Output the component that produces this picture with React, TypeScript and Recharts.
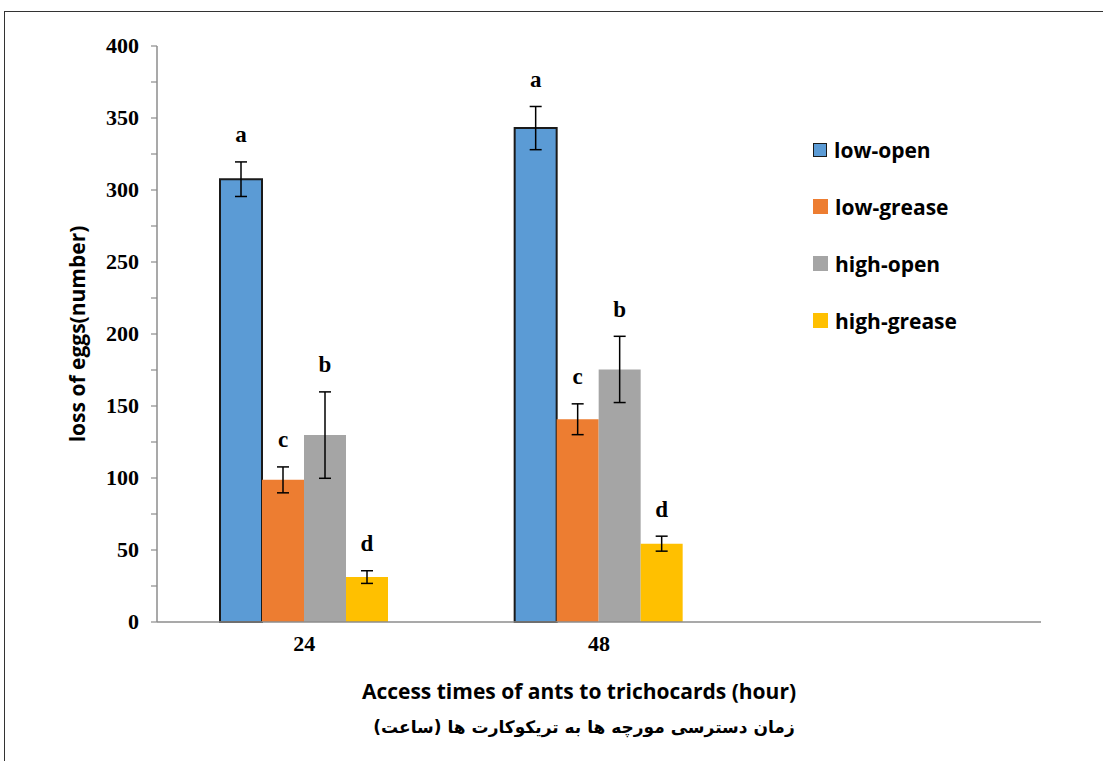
import { BarChart, Bar, XAxis, YAxis, ErrorBar, LabelList } from 'recharts';

// access times (hour); the third slot is an empty category in the original chart
const hours = ['24', '48', ''];

const seriesNames = ['low-open', 'low-grease', 'high-open', 'high-grease'];
const seriesColors = ['#5B9BD5', '#ED7D31', '#A5A5A5', '#FFC000'];

// mean loss of eggs per treatment
const lowOpen = [307.5, 343];
const lowGrease = [98.7, 140.8];
const highOpen = [129.8, 175.4];
const highGrease = [31.2, 54.4];

// error bar half-lengths
const lowOpenErr = [12, 15];
const lowGreaseErr = [9, 10.7];
const highOpenErr = [30, 23];
const highGreaseErr = [4.4, 5.2];

// significance letters
const lowOpenLetters = ['a', 'a'];
const lowGreaseLetters = ['c', 'c'];
const highOpenLetters = ['b', 'b'];
const highGreaseLetters = ['d', 'd'];

const yTicks = [0, 25, 50, 75, 100, 125, 150, 175, 200, 225, 250, 275, 300, 325, 350, 375, 400];

const values = [lowOpen, lowGrease, highOpen, highGrease];
const errors = [lowOpenErr, lowGreaseErr, highOpenErr, highGreaseErr];
const letters = [lowOpenLetters, lowGreaseLetters, highOpenLetters, highGreaseLetters];
const keys = ['s0', 's1', 's2', 's3'];

const data = hours.map((h, i) => {
  const row: Record<string, any> = { hour: h };
  keys.forEach((k, s) => {
    row[k] = values[s][i] ?? null;
    row[k + 'err'] = errors[s][i] ?? null;
    row[k + 'lt'] = letters[s][i] ?? null;
  });
  return row;
});

const SERIF = '"Liberation Serif", "Times New Roman", serif';
const SANS = '"Open Sans", Lato, sans-serif';

// letter drawn above the top of the error bar
const makeLetter = (s: number) => (props: any) => {
  const { x, y, width, height, index, value } = props;
  if (!value) return null;
  const v = values[s][index];
  const e = errors[s][index];
  const pxPerUnit = Math.abs(height) / v;
  const top = y - e * pxPerUnit;
  return (
    <text
      x={x + width / 2}
      y={top - 27}
      textAnchor="middle"
      dominantBaseline="central"
      fontFamily={SERIF}
      fontWeight="bold"
      fontSize={23}
      fill="#000"
    >
      {value}
    </text>
  );
};

const XTick = (props: any) => {
  const { x, y, payload } = props;
  return (
    <text x={x} y={y} dy={21} textAnchor="middle" style={{ fontFamily: SERIF, fontWeight: 'bold', fontSize: 22 }} fill="#000">
      {payload.value}
    </text>
  );
};

const YTick = (props: any) => {
  const { x, y, payload } = props;
  if (payload.value % 50 !== 0) return null;
  return (
    <text x={x} y={y} dy={7} textAnchor="end" style={{ fontFamily: SERIF, fontWeight: 'bold', fontSize: 22 }} fill="#000">
      {payload.value}
    </text>
  );
};

export default function App() {
  return (
    <div style={{ position: 'fixed', left: 0, top: 0, width: 1103, height: 761, background: '#fff', overflow: 'hidden' }}>
      <div style={{ position: 'absolute', left: 4, top: 11, width: 1200, height: 900, border: '1px solid #333' }} />
      <BarChart
        width={1103}
        height={761}
        data={data}
        margin={{ top: 46, right: 62, left: 97, bottom: 109 }}
        barCategoryGap={63}
        barGap={0}
      >
        <XAxis
          dataKey="hour"
          tickLine={false}
          tickSize={0}
          tickMargin={8}
          height={30}
          axisLine={{ stroke: '#8c8c8c', strokeWidth: 1.5 }}
          tick={<XTick />}
        />
        <YAxis
          domain={[0, 400]}
          ticks={yTicks}
          interval={0}
          width={60}
          tickSize={6}
          tickMargin={12}
          axisLine={{ stroke: '#8c8c8c', strokeWidth: 1.5 }}
          tickLine={{ stroke: '#8c8c8c', strokeWidth: 1.2 }}
          tick={<YTick />}
        />
        {keys.map((k, s) => (
          <Bar
            key={k}
            dataKey={k}
            name={seriesNames[s]}
            fill={seriesColors[s]}
            stroke={s === 0 ? '#1a1a1a' : 'none'}
            strokeWidth={s === 0 ? 2 : 0}
            isAnimationActive={false}
          >
            <ErrorBar dataKey={k + 'err'} width={6} stroke="#000" strokeWidth={1.5} direction="y" />
            <LabelList dataKey={k + 'lt'} content={makeLetter(s)} />
          </Bar>
        ))}
      </BarChart>
      {/* legend */}
      <div style={{ position: 'absolute', left: 813, top: 121, fontFamily: SANS, fontWeight: 'bold', fontSize: 21, color: '#000' }}>
        {seriesNames.map((n, i) => (
          <div key={n} style={{ display: 'flex', alignItems: 'center', height: 57 }}>
            <span
              style={{
                display: 'inline-block',
                width: i === 0 ? 12 : 15,
                height: i === 0 ? 12 : 15,
                background: seriesColors[i],
                border: i === 0 ? '1.5px solid #1a1a1a' : 'none',
                marginRight: 7,
              }}
            />
            <span>{n}</span>
          </div>
        ))}
      </div>
      <div
        style={{
          position: 'absolute',
          left: 77,
          top: 334,
          transform: 'translate(-50%, -50%) rotate(-90deg)',
          whiteSpace: 'nowrap',
          fontFamily: SANS,
          fontWeight: 'bold',
          fontSize: 21,
          color: '#000',
        }}
      >
        loss of eggs(number)
      </div>
      <div
        style={{
          position: 'absolute',
          left: 579,
          top: 691,
          transform: 'translate(-50%, -50%)',
          whiteSpace: 'nowrap',
          fontFamily: SANS,
          fontWeight: 'bold',
          fontSize: 21,
          color: '#000',
        }}
      >
        Access times of ants to trichocards (hour)
      </div>
      <div
        dir="rtl"
        style={{
          position: 'absolute',
          left: 584,
          top: 727,
          transform: 'translate(-50%, -50%)',
          whiteSpace: 'nowrap',
          fontFamily: '"DejaVu Sans", sans-serif',
          fontWeight: 'bold',
          fontSize: 17,
          color: '#000',
        }}
      >
        زمان دسترسی مورچه ها به تریکوکارت ها (ساعت)
      </div>
    </div>
  );
}
